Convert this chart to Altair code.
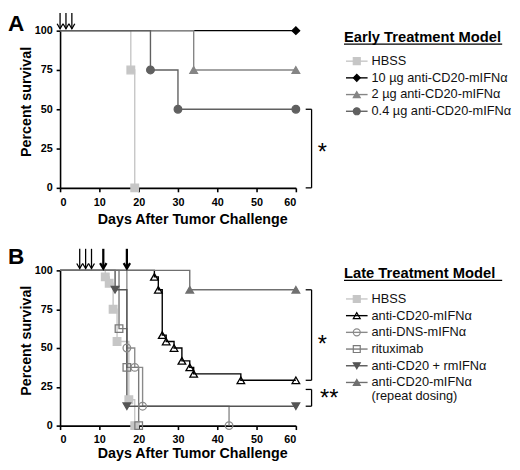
import altair as alt
import pandas as pd

FONT = "Liberation Sans"
X_TICKS = [0, 10, 20, 30, 40, 50, 60]
Y_TICKS = [0, 25, 50, 75, 100]

# ---- panel A: early treatment model
a_groups = ["HBSS", "10 µg anti-CD20-mIFNα", "2 µg anti-CD20-mIFNα", "0.4 µg anti-CD20-mIFNα"]
a_days = [[18, 19], [60], [34, 60], [23, 30, 60]]
a_surv = [[75, 0], [100], [75, 75], [75, 50, 50]]
a_stroke = ["#c6c6c6", "#000000", "#858585", "#606060"]
a_fill = ["#c6c6c6", "#000000", "#858585", "#606060"]
a_shape = ["square", "diamond", "triangle-up", "circle"]
a_arrows = [0, 1.5, 3]
a_thick = []

# ---- panel B: late treatment model
b_groups = ["HBSS", "anti-CD20-mIFNα", "anti-DNS-mIFNα", "rituximab",
            "anti-CD20 + rmIFNα", "anti-CD20-mIFNα (repeat dosing)"]
b_days = [[11.5, 12.5, 13.5, 14.5, 17.5, 19],
          [24, 25, 26, 27, 29, 31, 33, 34, 46, 60],
          [17, 19, 21, 43],
          [15, 17, 20],
          [14, 17, 60],
          [33, 60]]
b_surv = [[95.8, 91.7, 75, 54.2, 16.7, 0],
          [95.8, 87.5, 58.3, 54.2, 50, 41.7, 37.5, 33.3, 29.2, 29.2],
          [50, 37.5, 12.5, 0],
          [62.5, 37.5, 0],
          [87.5, 12.5, 12.5],
          [87.5, 87.5]]
b_stroke = ["#c6c6c6", "#000000", "#8a8a8a", "#7a7a7a", "#555555", "#707070"]
b_fill = ["#c6c6c6", "transparent", "transparent", "transparent", "#555555", "#707070"]
b_shape = ["square", "triangle-up", "circle", "square", "triangle-down", "triangle-up"]
b_labels = ["HBSS", "anti-CD20-mIFNα", "anti-DNS-mIFNα", "rituximab",
            "anti-CD20 + rmIFNα", "anti-CD20-mIFNα", "(repeat dosing)"]
b_arrows = [5, 6.5, 8]
b_thick = [11, 17]


def panel(letter, letter_y, groups, days, surv, stroke, fill, shape, arrows, thick, arrow_top,
          title, title_y, labels, label_y, marker_y, brackets, stars,
          label_pad, title_pad, height):

    def X(field):
        return alt.X(field, type="quantitative",
                     scale=alt.Scale(domain=[0, 60], nice=False),
                     axis=alt.Axis(values=X_TICKS, title="Days After Tumor Challenge",
                                   labelPadding=label_pad, titlePadding=title_pad,
                                   titleX=134.5, titleAlign="center"))

    def Y(field):
        return alt.Y(field, type="quantitative",
                     scale=alt.Scale(domain=[0, 100], nice=False),
                     axis=alt.Axis(values=Y_TICKS, title="Percent survival",
                                   labelPadding=4, titlePadding=1, titleY=height * 0.45))

    rows = []
    for g, ds, ss in zip(groups, days, surv):
        rows.append({"group": g, "day": 0, "pct": 100, "step": 0, "mark": 0})
        for i, (d, s) in enumerate(zip(ds, ss)):
            rows.append({"group": g, "day": d, "pct": s, "step": i + 1, "mark": 1})
    curves = pd.DataFrame(rows)

    col = alt.Color("group:N", scale=alt.Scale(domain=groups, range=stroke), legend=None)
    stk = alt.Stroke("group:N", scale=alt.Scale(domain=groups, range=stroke), legend=None)
    fil = alt.Fill("group:N", scale=alt.Scale(domain=groups, range=fill), legend=None)
    shp = alt.Shape("group:N", scale=alt.Scale(domain=groups, range=shape), legend=None)

    lines = alt.Chart(curves).mark_line(interpolate="step-after", strokeWidth=1.4).encode(
        x=X("day"), y=Y("pct"), color=col, order="step:Q")
    points = alt.Chart(curves[curves["mark"] == 1]).mark_point(
        filled=True, opacity=1, size=60, strokeWidth=1.3).encode(
        x=X("day"), y=Y("pct"), stroke=stk, fill=fil, shape=shp)

    arr = pd.DataFrame({"day": arrows + thick,
                        "top": arrow_top, "tip": 101.2,
                        "w": [1.3] * len(arrows) + [2.3] * len(thick),
                        "hs": [36] * len(arrows) + [42] * len(thick)})
    arrow_lines = alt.Chart(arr).mark_rule(color="black").encode(
        x=X("day"), y=Y("top"), y2="tip", strokeWidth=alt.StrokeWidth("w:Q", scale=None))
    arrow_heads = alt.Chart(arr).mark_point(
        shape="M-1,-1.7L0,0L1,-1.7", filled=False, color="black", opacity=1).encode(
        x=X("day"), y=Y("tip"), size=alt.Size("hs:Q", scale=None),
        strokeWidth=alt.StrokeWidth("w:Q", scale=None))

    br = pd.DataFrame(brackets, columns=["day", "day2", "pct", "pct2"])
    bracket = alt.Chart(br).mark_rule(color="black", strokeWidth=1.3).encode(
        x=X("day"), x2="day2", y=Y("pct"), y2="pct2")
    st = pd.DataFrame(stars, columns=["day", "pct", "txt"])
    star_text = alt.Chart(st).mark_text(fontSize=24, font=FONT, align="center",
                                        baseline="alphabetic").encode(
        x=X("day"), y=Y("pct"), text="txt:N")

    leg = pd.DataFrame({"group": groups, "pct": marker_y,
                        "lx1": 72.75, "lx2": 78.25, "mx": 75.5})
    leg_lines = alt.Chart(leg).mark_rule(strokeWidth=1.4).encode(
        x=X("lx1"), x2="lx2", y=Y("pct"), color=col)
    leg_points = alt.Chart(leg).mark_point(
        filled=True, opacity=1, size=50, strokeWidth=1.2).encode(
        x=X("mx"), y=Y("pct"), stroke=stk, fill=fil, shape=shp)
    lab = pd.DataFrame({"txt": labels, "pct": label_y, "day": 79.25})
    leg_text = alt.Chart(lab).mark_text(fontSize=13, font=FONT, align="left",
                                        baseline="middle", color="#111").encode(
        x=X("day"), y=Y("pct"), text="txt:N")
    ttl = pd.DataFrame({"txt": [title], "pct": [title_y], "day": [72.25]})
    leg_title = alt.Chart(ttl).mark_text(fontSize=15, font=FONT, fontWeight="bold",
                                         align="left", baseline="middle").encode(
        x=X("day"), y=Y("pct"), text="txt:N")
    ul = pd.DataFrame({"day": [72.25], "day2": [112.5], "pct": [title_y - 4.5]})
    underline = alt.Chart(ul).mark_rule(color="black", strokeWidth=1.3).encode(
        x=X("day"), x2="day2", y=Y("pct"))

    let = pd.DataFrame({"txt": [letter], "pct": [letter_y], "day": [-13.25]})
    letter_text = alt.Chart(let).mark_text(fontSize=23, font=FONT, fontWeight="bold",
                                           align="left", baseline="alphabetic").encode(
        x=X("day"), y=Y("pct"), text="txt:N")

    return alt.layer(lines, points, arrow_lines, arrow_heads, bracket, star_text,
                     leg_lines, leg_points, leg_text, leg_title, underline,
                     letter_text).properties(width=240, height=height)


step_a = 10.625
panel_a = panel("A", 99.8, a_groups, a_days, a_surv, a_stroke, a_fill, a_shape,
                a_arrows, a_thick, 111.25,
                "Early Treatment Model", 96.0,
                a_groups, [80.6 - step_a * i for i in range(4)],
                [80.6 - step_a * i for i in range(4)],
                [[64, 64, 50, 0], [62.5, 64, 50, 50], [62.5, 64, 0, 0]],
                [[66.75, 17.5, "*"]], 5, 5, 160)

step_b = 10.76
b_rows = [81.6 - step_b * i for i in range(6)]
panel_b = panel("B", 104.4, b_groups, b_days, b_surv, b_stroke, b_fill, b_shape,
                b_arrows, b_thick, 113.9,
                "Late Treatment Model", 98.1,
                b_labels, b_rows + [b_rows[-1] - 8.9], b_rows,
                [[64, 64, 87.5, 29.2], [62.5, 64, 87.5, 87.5], [62.5, 64, 29.2, 29.2],
                 [64, 64, 23.3, 12.5], [62.5, 64, 23.3, 23.3], [62.5, 64, 12.5, 12.5]],
                [[66.75, 47.5, "*"], [68.5, 12.5, "**"]], 4, 2, 158)

chart = alt.vconcat(panel_a, panel_b, spacing=20).resolve_scale(
    color="independent", stroke="independent", fill="independent", shape="independent"
).properties(padding=0).configure_view(stroke=None).configure_axis(
    grid=False, domainColor="black", domainWidth=1.6, tickColor="black", tickWidth=1.6,
    tickSize=4, labelFont=FONT, labelFontWeight="bold", labelFontSize=11, labelColor="black",
    titleFont=FONT, titleFontWeight="bold", titleFontSize=14.5, titleColor="black")

chart.save("out.html", embed_options={"renderer": "svg", "actions": False})
